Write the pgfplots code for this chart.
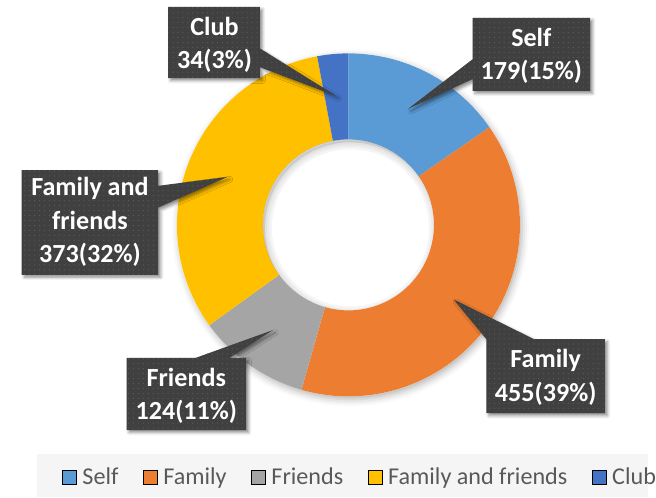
\documentclass[border=0pt]{standalone}
\usepackage{pgfplots}
\pgfplotsset{compat=1.18}
\usepackage{fontspec}
\setmainfont{Carlito}
\usetikzlibrary{shadows.blur,patterns.meta}
\definecolor{selfc}{HTML}{5B9BD5}
\definecolor{familyc}{HTML}{ED7D31}
\definecolor{friendsc}{HTML}{A5A5A5}
\definecolor{ffc}{HTML}{FFC000}
\definecolor{clubc}{HTML}{4472C4}
\definecolor{boxc}{HTML}{404040}
\definecolor{dotc}{HTML}{585858}
\definecolor{legtext}{HTML}{595959}
\definecolor{legbg}{HTML}{F5F5F5}

% data
\def\vSelf{179}
\def\vFamily{455}
\def\vFriends{124}
\def\vFF{373}
\def\vClub{34}
\pgfmathsetmacro\total{\vSelf+\vFamily+\vFriends+\vFF+\vClub}

\gdef\curangle{90}
\newcommand\slice[2]{%
  \pgfmathsetmacro\sa{\curangle}%
  \pgfmathsetmacro\frac{#1/\total}%
  \pgfmathsetmacro\ea{\curangle-\frac*360}%
  \pgfmathsetmacro\xo{352.5+173.5*cos(\sa)}%
  \pgfmathsetmacro\yo{275.5+173.5*sin(\sa)}%
  \pgfmathsetmacro\xi{352.5+86.5*cos(\ea)}%
  \pgfmathsetmacro\yi{275.5+86.5*sin(\ea)}%
  \edef\doslice{\noexpand\fill[#2] (axis cs:\xo,\yo) arc[start angle=\sa, end angle=\ea, radius=173.5bp] -- (axis cs:\xi,\yi) arc[start angle=\ea, end angle=\sa, radius=86.5bp] -- cycle;}%
  \doslice
  \global\let\curangle\ea
}

\tikzset{
  callout/.style={fill=boxc,
    blur shadow={shadow xshift=2.5bp, shadow yshift=-2.5bp, shadow blur radius=3bp, shadow opacity=45},
    postaction={pattern={Dots[distance=5bp, radius=0.7bp]}, pattern color=dotc}},
  lbl/.style={text=white, font=\bfseries\fontsize{26.5}{34}\selectfont, align=center, inner sep=0pt, outer sep=0pt}
}
\pgfplotsset{
  sq/.style={legend image code/.code={\fill[##1] (0bp,-7bp) rectangle (14bp,7bp);}}
}

\begin{document}
\begin{tikzpicture}
\begin{axis}[
  x=1bp, y=1bp, xmin=0, xmax=656, ymin=0, ymax=503,
  scale only axis, hide axis, clip=false,
  legend columns=5,
  legend style={draw=none, fill=none, inner sep=0pt, outer sep=0pt,
    at={(0.09604,0.04075)}, anchor=west,
    font=\fontsize{24.5}{28}\selectfont, text=legtext,
    nodes={inner sep=0pt},
    /tikz/every odd column/.append style={column sep=6bp},
    /tikz/every even column/.append style={column sep=25bp}},
]
\path (axis cs:0,0) rectangle (axis cs:656,503);
% legend background
\fill[legbg] (axis cs:37,0) rectangle (axis cs:656,44);
% donut shadow
\fill[white, blur shadow={shadow xshift=2bp, shadow yshift=-3bp, shadow blur radius=7bp, shadow opacity=30}] (axis cs:352.5,275.5) circle[radius=173.5bp];
% slices
\slice{\vSelf}{selfc}
\slice{\vFamily}{familyc}
\slice{\vFriends}{friendsc}
\slice{\vFF}{ffc}
\slice{\vClub}{clubc}
% soft inner shadow of the hole
\begin{scope}
\clip (axis cs:352.5,275.5) circle[radius=86.5bp];
\draw[black, opacity=0.10, line width=40bp] (axis cs:354.5,272.5) circle[radius=106.5bp];
\draw[black, opacity=0.04, line width=14bp] (axis cs:354.5,272.5) circle[radius=86.5bp];
\draw[black, opacity=0.04, line width=9bp] (axis cs:354.5,272.5) circle[radius=86.5bp];
\draw[black, opacity=0.04, line width=4bp] (axis cs:354.5,272.5) circle[radius=86.5bp];
\end{scope}
% callouts
\fill[callout] (axis cs:478,485) -- (axis cs:597,485) -- (axis cs:597,411) -- (axis cs:478,411) -- (axis cs:478,423) -- (axis cs:413,393) -- (axis cs:478,443) -- cycle;
\fill[callout] (axis cs:170,496) -- (axis cs:263,496) -- (axis cs:263,454) -- (axis cs:340,406) -- (axis cs:263,435) -- (axis cs:263,424) -- (axis cs:170,424) -- cycle;
\fill[callout] (axis cs:22,331) -- (axis cs:160,331) -- (axis cs:160,315) -- (axis cs:230,324) -- (axis cs:160,293) -- (axis cs:160,225) -- (axis cs:22,225) -- cycle;
\fill[callout] (axis cs:128,141) -- (axis cs:198,141) -- (axis cs:276,169) -- (axis cs:232,141) -- (axis cs:249,141) -- (axis cs:249,68) -- (axis cs:128,68) -- cycle;
\fill[callout] (axis cs:492,160) -- (axis cs:459,200) -- (axis cs:540,160) -- (axis cs:612,160) -- (axis cs:612,85) -- (axis cs:492,85) -- cycle;
% label texts
\node[lbl] at (axis cs:537.5,446.5) {Self\\179(15\%)};
\node[lbl] at (axis cs:217,457.5) {Club\\34(3\%)};
\node[lbl] at (axis cs:91,278.3) {Family and\\friends\\373(32\%)};
\node[lbl] at (axis cs:188.5,102.5) {Friends\\124(11\%)};
\node[lbl] at (axis cs:552,121.5) {Family\\455(39\%)};
% legend
\addlegendimage{sq, fill=selfc}\addlegendentry{Self}
\addlegendimage{sq, fill=familyc}\addlegendentry{Family}
\addlegendimage{sq, fill=friendsc}\addlegendentry{Friends}
\addlegendimage{sq, fill=ffc}\addlegendentry{Family and friends}
\addlegendimage{sq, fill=clubc}\addlegendentry{Club}
\end{axis}
\end{tikzpicture}
\end{document}
